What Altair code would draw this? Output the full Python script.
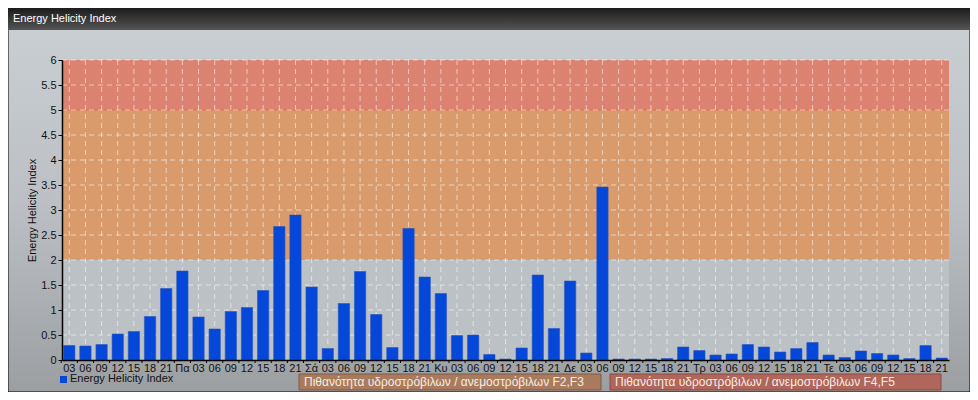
import json
import altair as alt
import pandas as pd

# ---------------- data ----------------
x_labels = ["03", "06", "09", "12", "15", "18", "21", "Πα",
            "03", "06", "09", "12", "15", "18", "21", "Σά",
            "03", "06", "09", "12", "15", "18", "21", "Κυ",
            "03", "06", "09", "12", "15", "18", "21", "Δε",
            "03", "06", "09", "12", "15", "18", "21", "Τρ",
            "03", "06", "09", "12", "15", "18", "21", "Τε",
            "03", "06", "09", "12", "15", "18", "21"]
ehi_values = [0.29, 0.28, 0.31, 0.52, 0.57, 0.87, 1.43, 1.78,
              0.86, 0.62, 0.97, 1.05, 1.39, 2.67, 2.90, 1.46,
              0.23, 1.13, 1.77, 0.91, 0.25, 2.63, 1.66, 1.33,
              0.49, 0.50, 0.11, 0.02, 0.24, 1.70, 0.63, 1.58,
              0.14, 3.46, 0.02, 0.02, 0.02, 0.03, 0.26, 0.19,
              0.10, 0.12, 0.31, 0.26, 0.16, 0.23, 0.35, 0.10,
              0.05, 0.18, 0.13, 0.10, 0.03, 0.29, 0.04]
band_lo = [0, 2, 5]
band_hi = [2, 5, 6]
y_ticks = [0, 0.5, 1, 1.5, 2, 2.5, 3, 3.5, 4, 4.5, 5, 5.5, 6]
series_name = "Energy Helicity Index"
legend_f23 = "Πιθανότητα υδροστρόβιλων / ανεμοστρόβιλων F2,F3"
legend_f45 = "Πιθανότητα υδροστρόβιλων / ανεμοστρόβιλων F4,F5"

df = pd.DataFrame({"idx": list(range(len(ehi_values))), "label": x_labels, "value": ehi_values})
bands = pd.DataFrame({"lo": band_lo, "hi": band_hi, "name": ["low", "mid", "high"]})
grid = pd.DataFrame({"v": y_ticks[1:]})
one = pd.DataFrame({"a": [0]})

W, H = 887, 300
FONT = "Liberation Sans"
FS = 11

def grad(c1, c2, c3=None):
    stops = [alt.GradientStop(color=c1, offset=0)]
    if c3:
        stops.append(alt.GradientStop(color=c2, offset=0.5))
        stops.append(alt.GradientStop(color=c3, offset=1))
    else:
        stops.append(alt.GradientStop(color=c2, offset=1))
    return alt.LinearGradient(gradient="linear", stops=stops, x1=0, x2=0, y1=0, y2=1)

xscale = alt.Scale(paddingInner=0.3, paddingOuter=0.1)
yscale = alt.Scale(domain=[0, 6], nice=False, zero=True)
STEP = W / (len(ehi_values) - 0.3 + 0.2)

label_expr = json.dumps(x_labels, ensure_ascii=False) + "[datum.value]"
xaxis = alt.Axis(labelExpr=label_expr, labelAngle=0, labelFont=FONT, labelFontSize=FS,
                 labelColor="#111111", domainColor="#000000", domainWidth=1.5,
                 ticks=False, labelPadding=2, labelOverlap=False, grid=False, zindex=1)
yaxis = alt.Axis(values=y_ticks, format=".1~f", labelFont=FONT, labelFontSize=FS,
                 labelColor="#111111", domainColor="#000000", domainWidth=1.5,
                 tickColor="#000000", tickSize=4, labelPadding=2, grid=False,
                 labelOverlap=False,
                 titleFont=FONT, titleFontSize=FS, titleFontWeight="normal",
                 titleColor="#111111", titlePadding=3, zindex=1)

def X(field):
    return alt.X(field, type="ordinal", scale=xscale, axis=xaxis, title=None)

def Y(field):
    return alt.Y(field, type="quantitative", scale=yscale, axis=yaxis, title=series_name)

# background
bg = alt.Chart(one).mark_rect(fill=grad("#cbd0d4", "#bcc0c4", "#9c9fa2"), stroke="#000000", strokeWidth=1).encode(
    x=alt.value(-54), x2=alt.value(908), y=alt.value(-52), y2=alt.value(332))
tbar = alt.Chart(one).mark_rect(fill=grad("#1c1c1c", "#545454")).encode(
    x=alt.value(-54), x2=alt.value(908), y=alt.value(-52), y2=alt.value(-30))
ttext = alt.Chart(pd.DataFrame({"t": [series_name]})).mark_text(
    align="left", baseline="middle", color="#ffffff", font=FONT, fontSize=FS).encode(
    x=alt.value(-49), y=alt.value(-41), text="t:N")

# colored bands
band_layer = alt.Chart(bands).mark_rect().encode(
    x=alt.value(0), x2=alt.value(W),
    y=Y("lo"), y2="hi:Q",
    fill=alt.Fill("name:N", scale=alt.Scale(domain=["low", "mid", "high"],
                                             range=["#bcc1c6", "#d99b6c", "#dc8270"]), legend=None))
line5 = alt.Chart(pd.DataFrame({"v": [5]})).mark_rule(color="#e8704c", strokeWidth=1).encode(
    y=Y("v"), x=alt.value(0), x2=alt.value(W))

hgrid = alt.Chart(grid).mark_rule(color="#ffffff", strokeDash=[5, 4], opacity=0.55).encode(
    y=Y("v"), x=alt.value(0), x2=alt.value(W))
vgrid = alt.Chart(df).mark_rule(color="#ffffff", strokeDash=[5, 4], opacity=0.55).encode(
    x=X("idx"), y=alt.value(0), y2=alt.value(H))

bars = alt.Chart(df).mark_bar(color="#0547d8", stroke="#2b58bd", strokeWidth=0.6).encode(
    x=X("idx"), y=Y("value"))

# x ticks at the boundaries between categories
xticks = alt.Chart(df).mark_rule(color="#000000", strokeWidth=1, xOffset=-STEP / 2).encode(
    x=X("idx"), y=alt.value(H), y2=alt.value(H + 3))

# legend
leg_sq = alt.Chart(one).mark_rect(fill="#0547d8").encode(
    x=alt.value(-2), x2=alt.value(5), y=alt.value(316), y2=alt.value(323))
leg_txt = alt.Chart(pd.DataFrame({"t": [series_name]})).mark_text(
    align="left", baseline="middle", font=FONT, fontSize=FS, color="#111111").encode(
    x=alt.value(8), y=alt.value(319), text="t:N")
box1 = alt.Chart(one).mark_rect(fill="#a97b5c", stroke="#7c5a46", strokeWidth=1).encode(
    x=alt.value(237), x2=alt.value(539), y=alt.value(314), y2=alt.value(330))
box1t = alt.Chart(pd.DataFrame({"t": [legend_f23]})).mark_text(
    align="left", baseline="middle", font=FONT, fontSize=12, color="#f4ede6").encode(
    x=alt.value(242), y=alt.value(322), text="t:N")
box2 = alt.Chart(one).mark_rect(fill="#b0665a", stroke="#874a40", strokeWidth=1).encode(
    x=alt.value(548), x2=alt.value(879), y=alt.value(314), y2=alt.value(330))
box2t = alt.Chart(pd.DataFrame({"t": [legend_f45]})).mark_text(
    align="left", baseline="middle", font=FONT, fontSize=12, color="#f4ede6").encode(
    x=alt.value(553), y=alt.value(322), text="t:N")

chart = alt.layer(bg, tbar, ttext, band_layer, line5, hgrid, vgrid, bars, xticks,
                  leg_sq, leg_txt, box1, box1t, box2, box2t).resolve_scale(
    fill="independent").properties(
    width=W, height=H,
    autosize=alt.AutoSizeParams(type="none"),
    padding={"left": 54, "top": 52, "right": 21, "bottom": 32},
).configure_view(stroke=None).configure(background="white")

chart.save("out.html", embed_options={"renderer": "svg", "actions": False})
